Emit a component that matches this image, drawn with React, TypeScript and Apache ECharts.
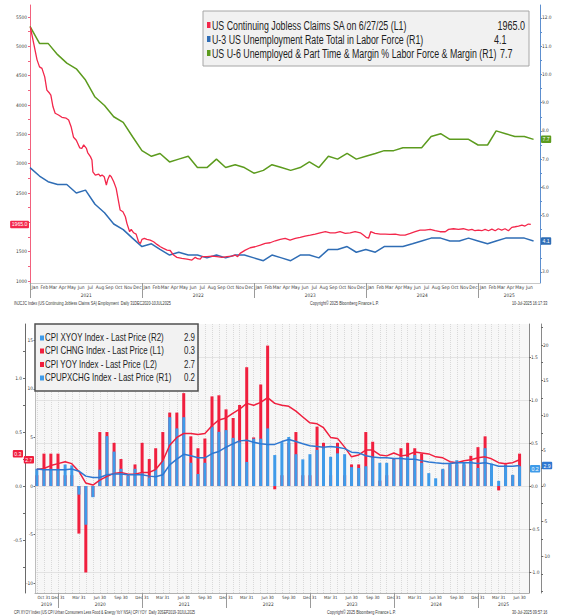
import React, { useEffect, useRef } from "react";
import * as echarts from "echarts";

// ---------------- Top chart: US labour market ----------------
const claimDates = [
  "2021-01-01","2021-01-12","2021-01-23","2021-01-31","2021-02-08","2021-02-17","2021-02-24","2021-03-05","2021-03-09","2021-03-16",
  "2021-03-23","2021-04-03","2021-04-14","2021-04-28","2021-05-06","2021-05-14","2021-05-22","2021-05-31","2021-06-11","2021-06-18",
  "2021-06-24","2021-07-03","2021-07-07","2021-07-16","2021-07-21","2021-07-24","2021-08-01","2021-08-12","2021-08-17","2021-08-23",
  "2021-08-30","2021-09-06","2021-09-10","2021-09-17","2021-09-22","2021-09-30","2021-10-08","2021-10-16","2021-10-21","2021-10-30",
  "2021-11-07","2021-11-12","2021-11-21","2021-11-26","2021-12-04","2021-12-12","2021-12-20","2021-12-26","2021-12-31","2022-01-08",
  "2022-01-16","2022-01-27","2022-02-07","2022-02-18","2022-03-01","2022-03-11","2022-03-23","2022-04-02","2022-04-13","2022-04-24",
  "2022-05-10","2022-05-27","2022-06-12","2022-06-23","2022-06-30","2022-07-09","2022-07-15","2022-07-31","2022-08-16","2022-09-02",
  "2022-09-18","2022-10-04","2022-10-20","2022-10-31","2022-11-08","2022-11-16","2022-12-03","2022-12-19","2023-01-04","2023-01-21",
  "2023-02-06","2023-02-22","2023-03-11","2023-03-27","2023-04-12","2023-04-28","2023-05-15","2023-05-31","2023-06-16","2023-07-03",
  "2023-07-19","2023-08-04","2023-08-21","2023-09-06","2023-09-22","2023-10-08","2023-10-25","2023-11-10","2023-11-26","2023-12-13",
  "2023-12-23","2024-01-01","2024-01-09","2024-01-16","2024-01-30","2024-02-16","2024-03-03","2024-03-19","2024-04-05","2024-04-21",
  "2024-05-07","2024-05-24","2024-06-09","2024-06-25","2024-07-11","2024-07-28","2024-08-13","2024-08-29","2024-09-15","2024-09-26",
  "2024-10-12","2024-10-28","2024-11-13","2024-11-30","2024-12-11","2024-12-21","2025-01-01","2025-01-12","2025-01-23","2025-02-03",
  "2025-02-14","2025-02-25","2025-03-07","2025-03-18","2025-03-29","2025-04-09","2025-04-20","2025-05-01","2025-05-12","2025-05-23",
  "2025-06-02","2025-06-13","2025-06-21"
];
const claimValues = [
  5330,5050,4770,4650,4625,4480,4255,4200,4170,3970,
  3860,3830,3790,3775,3745,3630,3450,3400,3270,3260,
  3320,3260,3190,3120,3062,2862,2806,2823,2789,2806,
  2777,2636,2721,2806,2777,2692,2579,2350,2210,2180,
  2095,1983,1840,1880,1822,1800,1669,1640,1710,1727,
  1710,1698,1669,1624,1584,1556,1527,1520,1442,1403,
  1385,1374,1357,1403,1380,1374,1414,1414,1425,1414,
  1403,1414,1425,1442,1414,1471,1527,1567,1584,1613,
  1641,1652,1686,1710,1727,1698,1727,1744,1766,1783,
  1800,1822,1840,1822,1822,1840,1812,1822,1840,1822,
  1783,1744,1730,1840,1812,1800,1800,1795,1800,1783,
  1783,1812,1840,1868,1868,1880,1857,1840,1840,1880,
  1891,1880,1891,1868,1880,1857,1868,1857,1880,1857,
  1885,1857,1891,1868,1891,1857,1914,1925,1937,1954,
  1937,1971,1965
];
const laborStartMonth = "2020-12";
const u3Values = [
  6.7,
  6.4, 6.2, 6.1, 6.1, 5.8, 5.9, 5.4, 5.1, 4.7, 4.5, 4.2, 3.9,
  4.0, 3.8, 3.6, 3.7, 3.6, 3.6, 3.5, 3.6, 3.5, 3.6, 3.6, 3.5,
  3.4, 3.6, 3.5, 3.4, 3.6, 3.6, 3.5, 3.8, 3.8, 3.9, 3.7, 3.8,
  3.7, 3.9, 3.9, 3.9, 4.0, 4.1, 4.2, 4.2, 4.1, 4.1, 4.2, 4.1,
  4.0, 4.1, 4.2, 4.2, 4.2, 4.1
];
const u6Values = [
  11.7,
  11.1, 11.1, 10.7, 10.4, 10.2, 9.8, 9.2, 8.9, 8.5, 8.3, 7.8, 7.3,
  7.1, 7.2, 6.9, 7.0, 7.1, 6.7, 6.7, 7.0, 6.7, 6.8, 6.7, 6.5,
  6.6, 6.8, 6.7, 6.6, 6.7, 6.9, 6.7, 7.1, 7.0, 7.2, 7.0, 7.1,
  7.2, 7.3, 7.3, 7.4, 7.4, 7.4, 7.8, 7.9, 7.7, 7.7, 7.7, 7.5,
  7.5, 8.0, 7.9, 7.8, 7.8, 7.7
];
const claimsAxisLabels = [1000, 1500, 2500, 3000, 3500, 4000, 4500, 5000, 5500];
const claimsAxisTicks = [1000, 1250, 1500, 1750, 2000, 2250, 2500, 2750, 3000, 3250, 3500, 3750, 4000, 4250, 4500, 4750, 5000, 5250, 5500];
const rateAxisLabels = [3, 5, 6, 7, 8, 9, 10, 11, 12];
const rateAxisTicks = [3, 3.5, 4, 4.5, 5, 5.5, 6, 6.5, 7, 7.5, 8, 8.5, 9, 9.5, 10, 10.5, 11, 11.5, 12];

// ---------------- Bottom chart: US CPI ----------------
const cpiStartMonth = "2019-09";
const cpiChng = [
  0.1, 0.3, 0.3, 0.3,
  0.1, 0.1, -0.44, -0.8, -0.1, 0.5, 0.5, 0.4, 0.25, 0.1, 0.2, 0.4,
  0.25, 0.35, 0.5, 0.68, 0.68, 0.86, 0.46, 0.35, 0.44, 0.83, 0.84, 0.71,
  0.63, 0.75, 1.1, 0.45, 0.94, 1.3, -0.03, 0.1, 0.4, 0.5, 0.1, 0.1,
  0.55, 0.4, 0.1, 0.4, 0.1, 0.2, 0.2, 0.5, 0.41, 0.05, 0.1, 0.25,
  0.35, 0.4, 0.35, 0.3, 0.0, 0.0, 0.15, 0.2, 0.2, 0.2, 0.28, 0.36,
  0.46, 0.2, -0.04, 0.2, 0.1, 0.3
];
const coreChng = [
  0.2, 0.2, 0.2, 0.2,
  0.25, 0.24, -0.1, -0.45, -0.13, 0.19, 0.58, 0.4, 0.2, 0.12, 0.2, 0.15,
  0.1, 0.2, 0.3, 0.8, 0.67, 0.8, 0.27, 0.14, 0.27, 0.69, 0.63, 0.65,
  0.56, 0.51, 0.28, 0.55, 0.55, 0.67, 0.36, 0.51, 0.57, 0.37, 0.31, 0.37,
  0.42, 0.44, 0.34, 0.38, 0.37, 0.22, 0.21, 0.23, 0.33, 0.27, 0.27, 0.31,
  0.34, 0.34, 0.36, 0.27, 0.15, 0.09, 0.2, 0.27, 0.3, 0.27, 0.29, 0.21,
  0.44, 0.26, 0.06, 0.24, 0.13, 0.23
];
const cpiYoy = [
  1.7, 1.8, 2.1, 2.3,
  2.5, 2.3, 1.5, 0.3, 0.1, 0.6, 1.0, 1.3, 1.4, 1.2, 1.2, 1.4,
  1.4, 1.7, 2.6, 4.2, 5.0, 5.4, 5.4, 5.3, 5.4, 6.2, 6.8, 7.0,
  7.5, 7.9, 8.5, 8.3, 8.6, 9.1, 8.5, 8.3, 8.2, 7.7, 7.1, 6.5,
  6.4, 6.0, 5.0, 4.9, 4.0, 3.0, 3.2, 3.7, 3.7, 3.2, 3.1, 3.4,
  3.1, 3.2, 3.5, 3.4, 3.3, 3.0, 2.9, 2.5, 2.4, 2.6, 2.7, 2.9,
  3.0, 2.8, 2.4, 2.3, 2.4, 2.7
];
const coreYoy = [
  2.4, 2.3, 2.3, 2.3,
  2.3, 2.4, 2.1, 1.4, 1.2, 1.2, 1.6, 1.7, 1.7, 1.6, 1.6, 1.6,
  1.4, 1.3, 1.6, 3.0, 3.8, 4.5, 4.3, 4.0, 4.0, 4.6, 4.9, 5.5,
  6.0, 6.4, 6.5, 6.2, 6.0, 5.9, 5.9, 6.3, 6.6, 6.3, 6.0, 5.7,
  5.6, 5.5, 5.6, 5.5, 5.3, 4.8, 4.7, 4.3, 4.1, 4.0, 4.0, 3.9,
  3.9, 3.8, 3.8, 3.6, 3.4, 3.3, 3.2, 3.2, 3.3, 3.3, 3.3, 3.2,
  3.3, 3.1, 2.8, 2.8, 2.8, 2.9
];
const cpiDateLabels = [
  "2019-10-31", "2019-12-31",
  "2020-03-31", "2020-06-30", "2020-09-30", "2020-12-31",
  "2021-03-31", "2021-06-30", "2021-09-30", "2021-12-31",
  "2022-03-31", "2022-06-30", "2022-09-30", "2022-12-31",
  "2023-03-31", "2023-06-30", "2023-09-30", "2023-12-31",
  "2024-03-31", "2024-06-30", "2024-09-30", "2024-12-31",
  "2025-03-31", "2025-06-30"
];
const cpiL1Labels = [-0.5, 0, 0.5, 1.0];
const cpiL2Labels = [-10, -5, 0, 5, 10, 15];
const cpiR1Labels = [-1.0, -0.5, 0, 0.5, 1.0, 1.5];
const cpiR2Labels = [-10, -5, 0, 5, 10, 15, 20];

const MONTHS = ["Jan", "Feb", "Mar", "Apr", "May", "Jun", "Jul", "Aug", "Sep", "Oct", "Nov", "Dec"];

// ---------------- helpers ----------------
const AX_FONT = '"Liberation Sans Narrow", "DejaVu Sans Condensed", "Liberation Sans", sans-serif';
const TXT_FONT = '"Liberation Sans", Arial, sans-serif';
const DAY = 86400000;

function ts(s: string): number {
  const [y, m, d] = s.split("-").map(Number);
  return Date.UTC(y, m - 1, d);
}
function monthEnds(start: string, n: number): number[] {
  const [y, m] = start.split("-").map(Number);
  return Array.from({ length: n }, (_, i) => Date.UTC(y, m + i, 0));
}
function yearMarks(min: number, max: number) {
  const y0 = new Date(min).getUTCFullYear();
  const y1 = new Date(max).getUTCFullYear();
  const mids: number[] = [];
  const starts: number[] = [];
  for (let y = y0; y <= y1; y++) {
    const s = Date.UTC(y, 0, 1);
    const e = Date.UTC(y + 1, 0, 1);
    const a = Math.max(s, min);
    const b = Math.min(e, max);
    if (b - a > 30 * DAY) mids.push((a + b) / 2);
    if (s > min) starts.push(s);
  }
  return { mids, starts };
}
function tag(value: number, text: string, color: string, position: string, distance: number) {
  return {
    silent: true,
    symbol: ["none", "none"],
    lineStyle: { color: "rgba(0,0,0,0)", width: 0 },
    label: {
      show: true,
      position,
      distance,
      formatter: text,
      color: "#fff",
      backgroundColor: color,
      padding: [1.5, 1.5, 1, 1.5],
      borderRadius: 1,
      fontSize: 5.2,
      fontFamily: TXT_FONT,
    },
    emphasis: { disabled: true },
    data: [{ yAxis: value }],
  };
}
const axLabel = (extra: any) => ({ fontSize: 4.8, color: "#3a3a3a", fontFamily: AX_FONT, ...extra });

function buildOption(): any {
  const RED = "#f3274b";
  const BLUE = "#2f6db5";
  const GREEN = "#5c9b1e";
  const CPI_RED = "#f01f3e";
  const CPI_BAR_BLUE = "#3f9be9";
  const CPI_LINE_BLUE = "#2e78d2";

  const topMin = ts("2020-12-31");
  const topMax = ts("2025-07-21");
  const botMin = ts("2019-09-22");
  const botMax = ts("2025-08-10");

  const laborDates = monthEnds(laborStartMonth, u3Values.length);
  const cpiDates = monthEnds(cpiStartMonth, cpiChng.length);

  const topMonthMids: number[] = [];
  for (let y = 2021; y <= 2025; y++) {
    for (let m = 0; m < 12; m++) {
      const t = Date.UTC(y, m, 16);
      if (Date.UTC(y, m + 1, 1) <= topMax) topMonthMids.push(t);
    }
  }
  const topYears = yearMarks(topMin, topMax);
  const botYears = yearMarks(botMin, botMax);

  const monthFmt = (v: number) => MONTHS[new Date(v).getUTCMonth()];
  const yearFmt = (v: number) => String(new Date(v).getUTCFullYear());
  const dayFmt = (v: number) => {
    const d = new Date(v);
    return MONTHS[d.getUTCMonth()] + " " + d.getUTCDate();
  };

  const graphic: any[] = [];
  // top legend box
  graphic.push({ type: "rect", z: 100, shape: { x: 203, y: 11, width: 326, height: 55 }, style: { fill: "#f1f1f1", stroke: "#a6a6a6", lineWidth: 1 } });
  const topLegend = [
    { color: RED, text: "US Continuing Jobless Claims SA on 6/27/25 (L1)", value: "1965.0", vx: 525, align: "right", y: 25 },
    { color: BLUE, text: "U-3 US Unemployment Rate Total in Labor Force (R1)", value: "4.1", vx: 494, align: "left", y: 39 },
    { color: GREEN, text: "US U-6 Unemployed & Part Time & Margin % Labor Force & Margin (R1)", value: "7.7", vx: 500, align: "left", y: 53 },
  ];
  topLegend.forEach((it) => {
    graphic.push({ type: "rect", z: 101, shape: { x: 207, y: it.y - 3, width: 3.5, height: 6 }, style: { fill: it.color } });
    graphic.push({ type: "text", z: 101, x: 212, y: it.y, scaleX: 0.735, style: { text: it.text, fontSize: 12, fontFamily: TXT_FONT, fill: "#1e1e1e", verticalAlign: "middle", align: "left" } });
    graphic.push({ type: "text", z: 101, x: it.vx, y: it.y, scaleX: 0.75, style: { text: it.value, fontSize: 12, fontFamily: TXT_FONT, fill: "#1e1e1e", verticalAlign: "middle", align: it.align } });
  });
  // bottom legend box
  graphic.push({ type: "rect", z: 100, shape: { x: 35, y: 324, width: 163, height: 67 }, style: { fill: "#f2f2f2", stroke: "#505050", lineWidth: 1.5 } });
  const botLegend = [
    { color: CPI_BAR_BLUE, text: "CPI XYOY Index - Last Price (R2)", value: "2.9", y: 338 },
    { color: CPI_RED, text: "CPI CHNG Index - Last Price (L1)", value: "0.3", y: 351 },
    { color: CPI_RED, text: "CPI YOY Index - Last Price (L2)", value: "2.7", y: 364.5 },
    { color: CPI_BAR_BLUE, text: "CPUPXCHG Index - Last Price (R1)", value: "0.2", y: 378 },
  ];
  botLegend.forEach((it) => {
    graphic.push({ type: "rect", z: 101, shape: { x: 40, y: it.y - 2.5, width: 4, height: 5 }, style: { fill: it.color } });
    graphic.push({ type: "text", z: 101, x: 45, y: it.y, scaleX: 0.755, style: { text: it.text, fontSize: 10.5, fontFamily: TXT_FONT, fill: "#1e1e1e", verticalAlign: "middle", align: "left" } });
    graphic.push({ type: "text", z: 101, x: 184, y: it.y, scaleX: 0.755, style: { text: it.value, fontSize: 10.5, fontFamily: TXT_FONT, fill: "#1e1e1e", verticalAlign: "middle", align: "left" } });
  });
  // footers
  const foot = (x: number, y: number, text: string, align: string, sx: number) => ({
    type: "text", z: 101, x, y, scaleX: sx,
    style: { text, fontSize: 5, fontFamily: TXT_FONT, fill: "#333", verticalAlign: "middle", align },
  });
  graphic.push(foot(14, 303, "INJCJC Index (US Continuing Jobless Claims SA) Employment  Daily 31DEC2020-10JUL2025", "left", 0.75));
  graphic.push(foot(310, 303, "Copyright© 2025 Bloomberg Finance L.P.", "left", 0.75));
  graphic.push(foot(512, 303, "10-Jul-2025 16:17:33", "left", 0.75));
  graphic.push(foot(14, 612, "CPI XYOY Index (US CPI Urban Consumers Less Food & Energy YoY NSA) CPI YOY  Daily 30SEP2019-30JUL2025", "left", 0.7));
  graphic.push(foot(327, 612, "Copyright© 2025 Bloomberg Finance L.P.", "left", 0.75));
  graphic.push(foot(512, 612, "30-Jul-2025 09:57:16", "left", 0.75));

  return {
    animation: false,
    backgroundColor: "#ffffff",
    grid: [
      { left: 30, top: 5, width: 510, height: 278, outerBoundsMode: "none" },
      { left: 35, top: 324, width: 494, height: 269, show: true, backgroundColor: "#f7f7f7", borderWidth: 0, outerBoundsMode: "none" },
    ],
    xAxis: [
      {
        gridIndex: 0, type: "value", position: "bottom", min: topMin, max: topMax,
        axisLine: { show: true, onZero: false, lineStyle: { color: "#c8c8c8", width: 1 } },
        axisTick: { show: false },
        axisLabel: axLabel({ customValues: topMonthMids, formatter: monthFmt, margin: 2 }),
        splitLine: { show: false },
      },
      {
        gridIndex: 0, type: "value", position: "bottom", min: topMin, max: topMax,
        axisLine: { show: false, onZero: false },
        axisTick: { show: true, customValues: topYears.starts, length: 15, lineStyle: { color: "#9a9a9a", width: 1 } },
        axisLabel: axLabel({ customValues: topYears.mids, formatter: yearFmt, margin: 10 }),
        splitLine: { show: false },
      },
      {
        gridIndex: 1, type: "value", position: "bottom", min: botMin, max: botMax,
        axisLine: { show: true, onZero: false, lineStyle: { color: "#b0b0b0", width: 1 } },
        axisTick: { show: false, customValues: cpiDates },
        axisLabel: axLabel({ customValues: cpiDateLabels.map(ts), formatter: dayFmt, margin: 2, fontSize: 4.3 }),
        splitLine: { show: true, lineStyle: { color: "#d9d9d9", type: "dotted", width: 1 } },
      },
      {
        gridIndex: 1, type: "value", position: "bottom", min: botMin, max: botMax,
        axisLine: { show: false, onZero: false },
        axisTick: { show: true, customValues: botYears.starts, length: 15, lineStyle: { color: "#9a9a9a", width: 1 } },
        axisLabel: axLabel({ customValues: botYears.mids, formatter: yearFmt, margin: 9 }),
        splitLine: { show: false },
      },
    ],
    yAxis: [
      {
        gridIndex: 0, type: "value", position: "left", min: 966, max: 5705,
        axisLine: { show: true, lineStyle: { color: "#f2617d", width: 1 } },
        axisTick: { show: true, length: 2, customValues: claimsAxisTicks, lineStyle: { color: "#f2617d" } },
        axisLabel: axLabel({ customValues: claimsAxisLabels, margin: 3, formatter: (v: number) => String(Math.round(v)) }),
        splitLine: { show: false },
      },
      {
        gridIndex: 0, type: "value", position: "right", min: 2.61, max: 12.46,
        axisLine: { show: true, lineStyle: { color: "#5d8fcf", width: 1 } },
        axisTick: { show: true, length: 2, customValues: rateAxisTicks, lineStyle: { color: "#5d8fcf" } },
        axisLabel: axLabel({ customValues: rateAxisLabels, margin: 2, formatter: (v: number) => v.toFixed(1) }),
        splitLine: { show: false },
      },
      {
        gridIndex: 1, type: "value", position: "left", offset: 10, min: -0.99, max: 1.5,
        axisLine: { show: true, lineStyle: { color: "#6a6a6a", width: 1 } },
        axisTick: { show: true, length: 2, customValues: [-0.75, -0.5, -0.25, 0, 0.25, 0.5, 0.75, 1.0, 1.25], lineStyle: { color: "#6a6a6a" } },
        axisLabel: axLabel({ customValues: cpiL1Labels, margin: 3, formatter: (v: number) => v.toFixed(1) }),
        splitLine: { show: false },
      },
      {
        gridIndex: 1, type: "value", position: "left", offset: 0, min: -11.01, max: 16.67,
        axisLine: { show: true, lineStyle: { color: "#bdbdbd", width: 1 } },
        axisTick: { show: true, length: 1.5, customValues: cpiL2Labels, lineStyle: { color: "#6a6a6a" } },
        axisLabel: axLabel({ customValues: cpiL2Labels, margin: 2, formatter: (v: number) => String(v) }),
        splitLine: { show: false },
      },
      {
        gridIndex: 1, type: "value", position: "right", offset: 0, min: -1.244, max: 1.884,
        axisLine: { show: true, lineStyle: { color: "#8a8a8a", width: 1 } },
        axisTick: { show: true, length: 2, customValues: cpiR1Labels, lineStyle: { color: "#6a6a6a" } },
        axisLabel: axLabel({ customValues: cpiR1Labels, margin: 2, formatter: (v: number) => v.toFixed(1) }),
        splitLine: { show: true, lineStyle: { color: "#e3e3e3", width: 1 } },
      },
      {
        gridIndex: 1, type: "value", position: "right", offset: 12, min: -15.18, max: 22.98,
        axisLine: { show: true, lineStyle: { color: "#8a8a8a", width: 1 } },
        axisTick: { show: true, length: 2, customValues: [-15, -12.5, -10, -7.5, -5, -2.5, 0, 2.5, 5, 7.5, 10, 12.5, 15, 17.5, 20, 22.5], lineStyle: { color: "#6a6a6a" } },
        axisLabel: axLabel({ customValues: cpiR2Labels, margin: 2, formatter: (v: number) => String(v) }),
        splitLine: { show: false },
      },
    ],
    series: [
      {
        name: "US U-6 Unemployed & Part Time & Margin % Labor Force & Margin (R1)",
        type: "line", xAxisIndex: 0, yAxisIndex: 1, showSymbol: false, z: 3,
        data: u6Values.map((v, i) => [laborDates[i], v]),
        lineStyle: { color: GREEN, width: 1.5 }, itemStyle: { color: GREEN },
        markLine: tag(7.7, "7.7", GREEN, "end", 1),
      },
      {
        name: "U-3 US Unemployment Rate Total in Labor Force (R1)",
        type: "line", xAxisIndex: 0, yAxisIndex: 1, showSymbol: false, z: 3,
        data: u3Values.map((v, i) => [laborDates[i], v]),
        lineStyle: { color: BLUE, width: 1.5 }, itemStyle: { color: BLUE },
        markLine: tag(4.1, "4.1", BLUE, "end", 1),
      },
      {
        name: "US Continuing Jobless Claims SA (L1)",
        type: "line", xAxisIndex: 0, yAxisIndex: 0, showSymbol: false, z: 4,
        data: claimValues.map((v, i) => [ts(claimDates[i]), v]),
        lineStyle: { color: RED, width: 1.3 }, itemStyle: { color: RED },
        markLine: tag(1965, "1965.0", RED, "start", 1),
      },
      {
        name: "CPI CHNG Index - Last Price (L1)",
        type: "bar", xAxisIndex: 2, yAxisIndex: 2, barWidth: 3, barGap: "-100%", z: 2,
        data: cpiChng.map((v, i) => [cpiDates[i], v]),
        itemStyle: { color: CPI_RED },
        markLine: tag(0.3, "0.3", CPI_RED, "start", 12),
      },
      {
        name: "CPUPXCHG Index - Last Price (R1)",
        type: "bar", xAxisIndex: 2, yAxisIndex: 4, barWidth: 3, barGap: "-100%", z: 2,
        data: coreChng.map((v, i) => [cpiDates[i], v]),
        itemStyle: { color: CPI_BAR_BLUE },
        markLine: tag(0.2, "0.2", CPI_BAR_BLUE, "end", 1),
      },
      {
        name: "CPI YOY Index - Last Price (L2)",
        type: "line", xAxisIndex: 2, yAxisIndex: 3, showSymbol: false, z: 4,
        data: cpiYoy.map((v, i) => [cpiDates[i], v]),
        lineStyle: { color: CPI_RED, width: 1.5 }, itemStyle: { color: CPI_RED },
        markLine: tag(2.7, "2.7", CPI_RED, "start", 1),
      },
      {
        name: "CPI XYOY Index - Last Price (R2)",
        type: "line", xAxisIndex: 2, yAxisIndex: 5, showSymbol: false, z: 4,
        data: coreYoy.map((v, i) => [cpiDates[i], v]),
        lineStyle: { color: CPI_LINE_BLUE, width: 1.5 }, itemStyle: { color: CPI_LINE_BLUE },
        markLine: tag(2.9, "2.9", CPI_LINE_BLUE, "end", 13),
      },
    ],
    graphic,
  };
}

export default function App() {
  const ref = useRef<HTMLDivElement>(null);
  useEffect(() => {
    if (!ref.current) return;
    const chart = echarts.init(ref.current, null, { renderer: "svg" });
    chart.setOption(buildOption());
    return () => chart.dispose();
  }, []);
  return (
    <div
      ref={ref}
      style={{ position: "fixed", left: 0, top: 0, width: 561, height: 615, background: "#ffffff" }}
    />
  );
}
